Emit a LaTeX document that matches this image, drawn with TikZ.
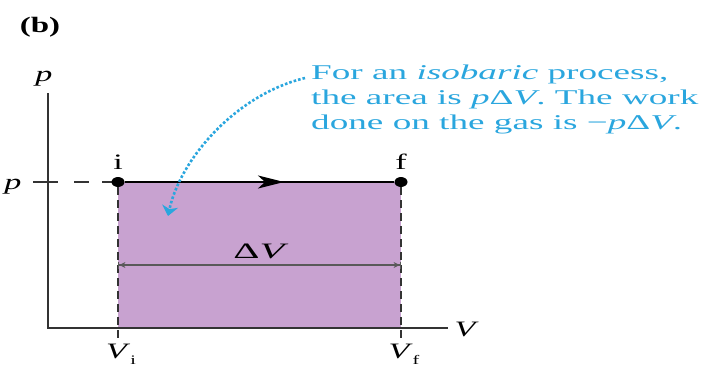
\documentclass[tikz,border=0pt]{standalone}
\usepackage{fontspec}
\usepackage{graphicx}
\setmainfont{Liberation Serif}
\usetikzlibrary{arrows.meta,shapes.geometric}
\definecolor{areafill}{HTML}{C8A2D0}
\definecolor{noteblue}{HTML}{2AA6DE}
\newcommand{\sxl}[1]{\scalebox{1.55}[1]{#1}}
\newcommand{\sxn}[1]{\scalebox{1.77}[1]{#1}}
\begin{document}
\begin{tikzpicture}[x=1pt,y=-1pt,
  lbl/.style={inner sep=0pt,anchor=base,font=\fontsize{22}{22}\selectfont},
  noteline/.style={inner sep=0pt,anchor=base west,text=noteblue,font=\fontsize{21}{21}\selectfont},
  dot/.style={ellipse,fill=black,inner sep=0pt,minimum width=13pt,minimum height=10pt},
  guide/.style={dash pattern=on 8pt off 5pt,line width=1.1pt,black!80},
  axis/.style={line width=1.4pt,black!80}]
\useasboundingbox (0,0) rectangle (712,367);
% area
\fill[areafill] (118,182) rectangle (401,328);
% axes
\coordinate (O) at (48,328);
\coordinate (ytop) at (48,93);
\coordinate (xend) at (448,328);
\draw[axis] (ytop) -- (O) -- (xend);
\node[lbl] (plab) at (44,81) {\sxl{\itshape p}};
\node[lbl] (Vlab) at (465,336) {\sxl{\itshape V}};
\node[lbl,font=\bfseries\fontsize{22}{22}\selectfont] (b) at (40,32) {\scalebox{1.5}[1]{(b)}};
% p tick
\coordinate (ptickL) at (33,182);
\coordinate (ptickR) at (58,182);
\coordinate (pdashR) at (112,182);
\node[lbl] (ptick) at (13,189) {\sxl{\itshape p}};
\draw[axis] (ptickL) -- (ptickR);
\draw[guide,dash pattern=on 15pt off 13pt] (ptickR) ++(16,0) -- (pdashR);
% points
\node[dot] (i) at (118,182) {};
\node[dot] (f) at (401,182) {};
\node[lbl] (ilab) at (118,169) {\sxl{i}};
\node[lbl] (flab) at (401,169) {\sxl{f}};
% dashed verticals
\coordinate (ib) at (118,343);
\coordinate (fb) at (401,343);
\draw[guide] (i) -- (ib);
\draw[guide] (f) -- (fb);
\node[lbl] (Vi) at (121,358) {\sxl{\itshape V\/\raisebox{-6pt}{\fontsize{13}{13}\selectfont\upshape i}}};
\node[lbl] (Vf) at (404,358) {\sxl{\itshape V\/\raisebox{-6pt}{\fontsize{13}{13}\selectfont\upshape f}}};
% process line
\draw[line width=2.2pt,black] (i) -- (f);
\coordinate (mid) at (284,182);
\draw[line width=2.2pt,-{Stealth[length=26pt,width=13pt,inset=7pt]}] (i) -- (mid);
% Delta V
\coordinate (dvL) at (118,265);
\coordinate (dvR) at (401,265);
\draw[line width=1.4pt,black!65,{Bar[width=7pt]Stealth[length=6pt,width=6pt]}-{Stealth[length=6pt,width=6pt]Bar[width=7pt]}] (dvL) -- (dvR);
\node[lbl] (dv) at (259,258) {\scalebox{1.85}[1]{Δ\itshape V}};
% note
\node[noteline] (note1) at (311,79) {\sxn{For an \textit{isobaric} process,}};
\node[noteline] (note2) at (311,104) {\sxn{the area is \textit{p}Δ\textit{V}. The work}};
\node[noteline] (note3) at (311,129) {\sxn{done on the gas is −\textit{p}Δ\textit{V}.}};
\coordinate (nstart) at (305,78);
\coordinate (nend) at (168,216);
\draw[noteblue,line width=2.6pt,dotted,-{Stealth[length=10pt,width=16pt,inset=3pt]}] (nstart) .. controls (235,95) and (180,160) .. (nend);
\end{tikzpicture}
\end{document}
